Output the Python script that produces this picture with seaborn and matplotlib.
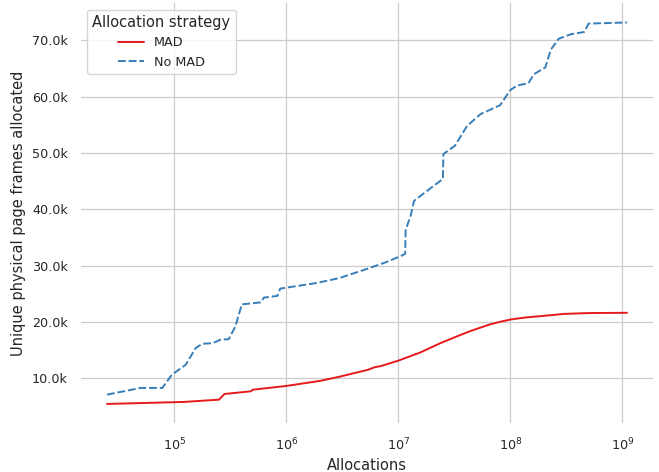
import matplotlib
matplotlib.use("Agg")
import matplotlib.pyplot as plt
import matplotlib.ticker as mticker
import numpy as np
import pandas as pd
import seaborn as sns

# Cumulative number of distinct physical page frames touched vs. number of allocations
mad_allocs = [2.5e4, 1.2e5, 2.5e5, 2.8e5, 4.8e5, 5.0e5, 1.0e6, 2.0e6, 3.0e6,
              5.3e6, 6.2e6, 6.9e6, 1.0e7, 1.57e7, 2.37e7, 3.58e7, 4.47e7,
              5.37e7, 6.6e7, 8.1e7, 1.0e8, 1.23e8, 1.51e8, 1.86e8, 3.0e8,
              5.0e8, 1.1e9]
mad_frames = [5400, 5750, 6160, 7170, 7640, 7930, 8600, 9500, 10250,
              11450, 11950, 12100, 13100, 14550, 16200, 17660, 18400,
              18950, 19550, 20000, 20400, 20650, 20850, 21000, 21400,
              21550, 21600]

nomad_allocs = [2.5e4, 5.0e4, 7.8e4, 9.5e4, 1.26e5, 1.55e5, 1.78e5, 2.2e5,
                2.6e5, 3.05e5, 3.5e5, 4.0e5, 5.9e5, 6.3e5, 8.3e5, 8.8e5,
                1.74e6, 2.45e6, 3.0e6, 4.9e6, 7.9e6, 1.08e7, 1.15e7, 1.16e7,
                1.29e7, 1.38e7, 1.58e7, 2.5e7, 2.52e7, 3.2e7, 4.1e7, 5.4e7,
                8.1e7, 1.0e8, 1.15e8, 1.45e8, 1.62e8, 2.05e8, 2.3e8, 2.7e8,
                3.45e8, 4.55e8, 5.0e8, 1.1e9]
nomad_frames = [7050, 8250, 8250, 10600, 12350, 15350, 16100, 16200,
                16850, 16900, 19150, 23100, 23450, 24300, 24600, 25900,
                26800, 27400, 27800, 29200, 30650, 31800, 32100, 36300,
                38900, 41500, 42400, 45400, 49800, 51300, 54800, 56900,
                58500, 61200, 62000, 62400, 64000, 65200, 68400, 70300,
                71100, 71500, 73000, 73200]

strategies = ["MAD", "No MAD"]

df = pd.concat([
    pd.DataFrame({"Allocations": mad_allocs, "frames": mad_frames,
                  "Allocation strategy": strategies[0]}),
    pd.DataFrame({"Allocations": nomad_allocs, "frames": nomad_frames,
                  "Allocation strategy": strategies[1]}),
], ignore_index=True)

sns.set_theme(style="whitegrid", context="notebook", font_scale=0.87,
              rc={"lines.linewidth": 1.4, "grid.linewidth": 0.9})

fig = plt.figure(figsize=(6.59, 4.72), dpi=100)
ax = fig.add_axes([0.1229, 0.1038, 0.868, 0.889])

sns.lineplot(data=df, x="Allocations", y="frames",
             hue="Allocation strategy", style="Allocation strategy",
             palette="Set1", estimator=None, ax=ax)

ax.set_xscale("log")
ax.set_xlabel("Allocations", fontsize=10.5)
ax.set_ylabel("Unique physical page frames allocated", fontsize=10.5)
ax.tick_params(labelsize=9.2)
ax.yaxis.set_major_formatter(
    mticker.FuncFormatter(lambda v, _: f"{v / 1000:.1f}k"))
ax.xaxis.set_minor_locator(mticker.NullLocator())
sns.despine(ax=ax, left=True, bottom=True)

handles, labels = ax.get_legend_handles_labels()
ax.legend(handles, labels, title="Allocation strategy", loc="upper left",
          fontsize=9.2, title_fontsize=10.5)

fig.savefig("out.png", dpi=100)
